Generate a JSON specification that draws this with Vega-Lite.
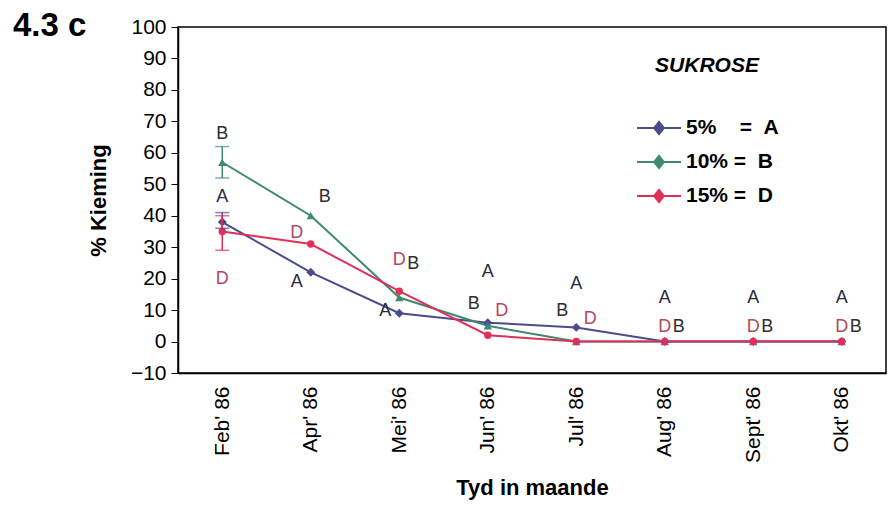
{
  "$schema": "https://vega.github.io/schema/vega-lite/v6.json",
  "width": 708,
  "height": 346,
  "autosize": "none",
  "padding": {"left": 178, "top": 27, "right": 4, "bottom": 135},
  "background": "white",
  "title": {"text": "4.3 c", "anchor": "start", "frame": "group", "dx": -165, "dy": 27, "offset": 0, "fontSize": 33, "font": "Liberation Sans", "fontWeight": "bold", "color": "black"},
  "config": {
    "font": "Liberation Sans",
    "view": {"stroke": "black", "strokeWidth": 1.5},
    "axis": {"grid": false, "domainColor": "black", "tickColor": "black", "labelColor": "black", "titleColor": "black", "labelFont": "Liberation Sans", "titleFont": "Liberation Sans", "domainWidth": 1.5},
    "axisY": {"labelOverlap": false, "labelFontSize": 21, "tickSize": 7, "labelPadding": 5, "titleFontSize": 22, "titleFontWeight": "bold", "titlePadding": 20, "tickCount": 12, "values": [-10, 0, 10, 20, 30, 40, 50, 60, 70, 80, 90, 100]},
    "axisX": {"labelOverlap": false, "labelFontSize": 21, "labelAngle": -90, "ticks": false, "labelPadding": 13, "titleFontSize": 22, "titleFontWeight": "bold", "titlePadding": 15}
  },
  "datasets": {
    "pts": [
      {"month": "Feb' 86", "series": "5%", "value": 38},
      {"month": "Apr' 86", "series": "5%", "value": 22},
      {"month": "Mei' 86", "series": "5%", "value": 9},
      {"month": "Jun' 86", "series": "5%", "value": 6},
      {"month": "Jul' 86", "series": "5%", "value": 4.5},
      {"month": "Aug' 86", "series": "5%", "value": 0},
      {"month": "Sept' 86", "series": "5%", "value": 0},
      {"month": "Okt' 86", "series": "5%", "value": 0},
      {"month": "Feb' 86", "series": "10%", "value": 57},
      {"month": "Apr' 86", "series": "10%", "value": 40},
      {"month": "Mei' 86", "series": "10%", "value": 14},
      {"month": "Jun' 86", "series": "10%", "value": 5},
      {"month": "Jul' 86", "series": "10%", "value": 0},
      {"month": "Aug' 86", "series": "10%", "value": 0},
      {"month": "Sept' 86", "series": "10%", "value": 0},
      {"month": "Okt' 86", "series": "10%", "value": 0},
      {"month": "Feb' 86", "series": "15%", "value": 35},
      {"month": "Apr' 86", "series": "15%", "value": 31},
      {"month": "Mei' 86", "series": "15%", "value": 16},
      {"month": "Jun' 86", "series": "15%", "value": 2},
      {"month": "Jul' 86", "series": "15%", "value": 0},
      {"month": "Aug' 86", "series": "15%", "value": 0},
      {"month": "Sept' 86", "series": "15%", "value": 0},
      {"month": "Okt' 86", "series": "15%", "value": 0}
    ],
    "err": [
      {"month": "Feb' 86", "series": "5%", "lo": 36, "hi": 41},
      {"month": "Feb' 86", "series": "10%", "lo": 52, "hi": 62},
      {"month": "Feb' 86", "series": "15%", "lo": 29, "hi": 40}
    ],
    "labels": [
      {"month": "Feb' 86", "letter": "A", "y": 46, "side": "center"},
      {"month": "Feb' 86", "letter": "B", "y": 66, "side": "center"},
      {"month": "Feb' 86", "letter": "D", "y": 20, "side": "center"},
      {"month": "Apr' 86", "letter": "A", "y": 19, "side": "left"},
      {"month": "Apr' 86", "letter": "B", "y": 46, "side": "right"},
      {"month": "Apr' 86", "letter": "D", "y": 34.5, "side": "left"},
      {"month": "Mei' 86", "letter": "A", "y": 9.7, "side": "left"},
      {"month": "Mei' 86", "letter": "B", "y": 24.6, "side": "right"},
      {"month": "Mei' 86", "letter": "D", "y": 26, "side": "center"},
      {"month": "Jun' 86", "letter": "A", "y": 22, "side": "center"},
      {"month": "Jun' 86", "letter": "B", "y": 12, "side": "left"},
      {"month": "Jun' 86", "letter": "D", "y": 9.7, "side": "right"},
      {"month": "Jul' 86", "letter": "A", "y": 18.3, "side": "center"},
      {"month": "Jul' 86", "letter": "B", "y": 9.7, "side": "left"},
      {"month": "Jul' 86", "letter": "D", "y": 7.2, "side": "right"},
      {"month": "Aug' 86", "letter": "A", "y": 13.8, "side": "center"},
      {"month": "Aug' 86", "letter": "B", "y": 4.6, "side": "right"},
      {"month": "Aug' 86", "letter": "D", "y": 4.6, "side": "center"},
      {"month": "Sept' 86", "letter": "A", "y": 13.8, "side": "center"},
      {"month": "Sept' 86", "letter": "B", "y": 4.6, "side": "right"},
      {"month": "Sept' 86", "letter": "D", "y": 4.6, "side": "center"},
      {"month": "Okt' 86", "letter": "A", "y": 13.8, "side": "center"},
      {"month": "Okt' 86", "letter": "B", "y": 4.6, "side": "right"},
      {"month": "Okt' 86", "letter": "D", "y": 4.6, "side": "center"}
    ]
  },
  "encoding": {
    "x": {
      "field": "month", "type": "ordinal",
      "sort": ["Feb' 86", "Apr' 86", "Mei' 86", "Jun' 86", "Jul' 86", "Aug' 86", "Sept' 86", "Okt' 86"],
      "scale": {"type": "point", "padding": 0.5},
      "axis": {"title": "Tyd in maande"}
    }
  },
  "layer": [
    {
      "data": {"name": "pts"},
      "mark": {"type": "line", "strokeWidth": 2},
      "encoding": {
        "y": {"field": "value", "type": "quantitative", "scale": {"domain": [-10, 100], "nice": false, "zero": false},
              "axis": {"title": "% Kieming", "values": [-10, 0, 10, 20, 30, 40, 50, 60, 70, 80, 90, 100], "labelOverlap": false}},
        "color": {"field": "series", "type": "nominal",
                  "scale": {"domain": ["5%", "10%", "15%"], "range": ["#4b4c8c", "#3d8a70", "#e0305a"]},
                  "legend": {"orient": "none", "legendX": 458, "legendY": 28, "title": "SUKROSE", "titleFontSize": 21, "titleFontStyle": "italic", "titleFontWeight": "bold", "titleColor": "black", "titlePadding": 29, "titleAnchor": "middle",
                             "labelExpr": "datum.label == '5%' ? '5%\u00a0\u00a0\u00a0\u00a0=\u00a0\u00a0A' : datum.label == '10%' ? '10%\u00a0=\u00a0\u00a0B' : '15%\u00a0=\u00a0\u00a0D'",
                             "labelFontSize": 21, "labelFontWeight": "bold", "labelColor": "black", "rowPadding": -12, "labelOffset": 4,
                             "symbolType": "M-1,0H1M0,-0.28L0.22,0L0,0.28L-0.22,0Z", "symbolSize": 1936, "symbolStrokeWidth": 2}}
      }
    },
    {
      "data": {"name": "pts"},
      "transform": [{"filter": "datum.series == '5%'"}],
      "mark": {"type": "point", "filled": true, "size": 80, "opacity": 1, "shape": "diamond"},
      "encoding": {
        "y": {"field": "value", "type": "quantitative"},
        "color": {"field": "series", "type": "nominal"}
      }
    },
    {
      "data": {"name": "pts"},
      "transform": [{"filter": "datum.series == '10%'"}],
      "mark": {"type": "point", "filled": true, "size": 70, "opacity": 1, "shape": "triangle-up"},
      "encoding": {
        "y": {"field": "value", "type": "quantitative"},
        "color": {"field": "series", "type": "nominal"}
      }
    },
    {
      "data": {"name": "pts"},
      "transform": [{"filter": "datum.series == '15%'"}],
      "mark": {"type": "point", "filled": true, "size": 55, "opacity": 1, "shape": "circle"},
      "encoding": {
        "y": {"field": "value", "type": "quantitative"},
        "color": {"field": "series", "type": "nominal"}
      }
    },
    {
      "data": {"name": "err"},
      "mark": {"type": "rule", "strokeWidth": 1.5},
      "encoding": {
        "y": {"field": "lo", "type": "quantitative"},
        "y2": {"field": "hi"},
        "color": {"field": "series", "type": "nominal"}
      }
    },
    {
      "data": {"name": "err"},
      "mark": {"type": "tick", "thickness": 1.5, "size": 14},
      "encoding": {
        "y": {"field": "lo", "type": "quantitative"},
        "color": {"field": "series", "type": "nominal"}
      }
    },
    {
      "data": {"name": "err"},
      "mark": {"type": "tick", "thickness": 1.5, "size": 14},
      "encoding": {
        "y": {"field": "hi", "type": "quantitative"},
        "color": {"field": "series", "type": "nominal"}
      }
    },
    {
      "data": {"name": "labels"},
      "transform": [{"filter": "datum.side == 'center'"}],
      "mark": {"type": "text", "fontSize": 18, "baseline": "middle"},
      "encoding": {
        "y": {"field": "y", "type": "quantitative"},
        "text": {"field": "letter"},
        "fill": {"field": "letter", "type": "nominal", "scale": {"domain": ["A", "B", "D"], "range": ["#2a2a40", "#2d2d2d", "#b04a5c"]}, "legend": null}
      }
    },
    {
      "data": {"name": "labels"},
      "transform": [{"filter": "datum.side == 'left'"}],
      "mark": {"type": "text", "fontSize": 18, "baseline": "middle", "dx": -14},
      "encoding": {
        "y": {"field": "y", "type": "quantitative"},
        "text": {"field": "letter"},
        "fill": {"field": "letter", "type": "nominal", "legend": null}
      }
    },
    {
      "data": {"name": "labels"},
      "transform": [{"filter": "datum.side == 'right'"}],
      "mark": {"type": "text", "fontSize": 18, "baseline": "middle", "dx": 14},
      "encoding": {
        "y": {"field": "y", "type": "quantitative"},
        "text": {"field": "letter"},
        "fill": {"field": "letter", "type": "nominal", "legend": null}
      }
    }
  ]
}
